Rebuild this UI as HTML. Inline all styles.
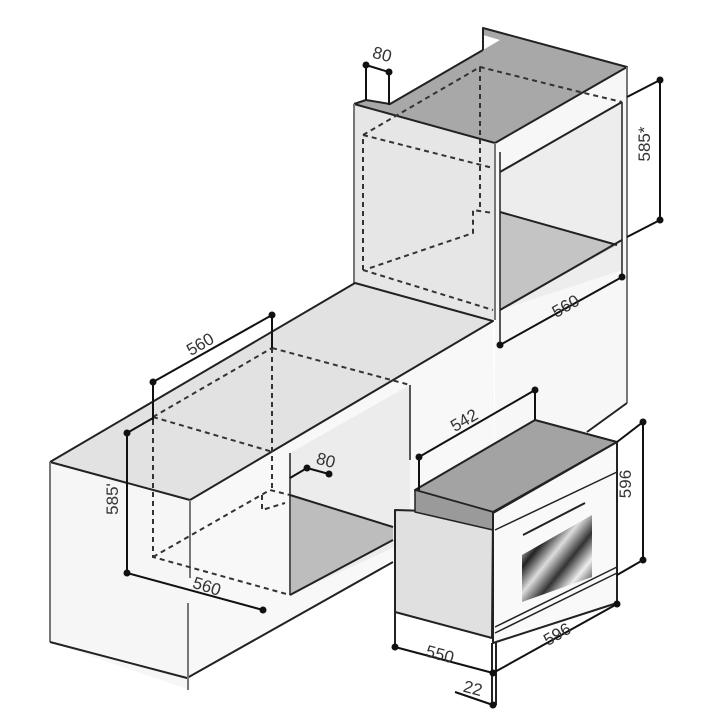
<!DOCTYPE html>
<html><head><meta charset="utf-8"><style>
html,body{margin:0;padding:0;background:#fff;}
svg{display:block;}
text{font-family:"Liberation Sans",sans-serif;font-size:17px;fill:#333;}
</style></head><body>
<svg width="720" height="720" viewBox="0 0 720 720" xmlns="http://www.w3.org/2000/svg">
<defs>
<linearGradient id="win" x1="0" y1="0" x2="1" y2="1">
<stop offset="0" stop-color="#111"/><stop offset="0.15" stop-color="#eee"/><stop offset="0.3" stop-color="#222"/><stop offset="0.45" stop-color="#ddd"/><stop offset="0.6" stop-color="#333"/><stop offset="0.75" stop-color="#eee"/><stop offset="0.9" stop-color="#444"/><stop offset="1" stop-color="#ccc"/>
</linearGradient>
</defs>
<rect width="720" height="720" fill="#fff"/>
<g stroke="#222" stroke-width="2" stroke-linejoin="round">
<!-- column right side face -->
<polygon points="495,143 627,67 627,403 587,432 495,480 495,320" fill="#f7f7f7" stroke="none"/>
<!-- column opening on right side -->
<polygon points="500,172 622,102 622,270 500,310" fill="#ededed" stroke="none"/>
<polygon points="500,212 617,245 500,310" fill="#c4c4c4" stroke="none"/>
<!-- column front -->
<polygon points="354,104 495,143 495,320 355,283" fill="#e6e6e6" stroke="none"/>
<!-- column top -->
<polygon points="354,104 366,100 390,104 483,50 483,28 627,67 495,143" fill="#a8a8a8" stroke="none"/>
<polygon points="483,35 500,40 483,50" fill="#fff" stroke="none"/>
<polyline points="354,104 366,100 390,104 483,50" fill="none"/>
<polyline points="483,50 483,28 627,67 495,143 354,104" fill="none"/>
<line x1="354" y1="104" x2="354" y2="284" stroke="#777"/>
<line x1="495" y1="143" x2="495" y2="320" stroke="#777"/>
<line x1="627" y1="67" x2="627" y2="403" stroke="#777"/>
<line x1="627" y1="403" x2="587" y2="432"/>
<line x1="500" y1="172" x2="622" y2="102"/>
<line x1="622" y1="102" x2="622" y2="277" stroke-width="1.5"/>
<line x1="500" y1="152" x2="500" y2="345" stroke-width="1.5"/>
<line x1="500" y1="212" x2="617" y2="245"/>
<line x1="500" y1="310" x2="622" y2="240"/>
<!-- block faces -->
<polygon points="50,462 190,500 190,690 50,642" fill="#f6f6f6" stroke="none"/>
<polygon points="50,462 355,283 493,321 190,500" fill="#e2e2e2" stroke="none"/>
<polygon points="190,500 493,321 495,480 393,560 187,677" fill="#f8f8f8" stroke="none"/>
<polygon points="290,453 410,385 410,540 290,595" fill="#ececec" stroke="none"/>
<polygon points="290,495 393,527 393,540 290,595" fill="#bdbdbd" stroke="none"/>
<polyline points="50,462 355,283 493,321 190,500 50,462" fill="none"/>
<line x1="50" y1="462" x2="50" y2="642" stroke="#777"/>
<polyline points="50,642 187,678 393,562" fill="none"/>
<line x1="190" y1="500" x2="190" y2="578" stroke="#777"/>
<line x1="188" y1="603" x2="188" y2="690" stroke="#777"/>
<line x1="290" y1="453" x2="290" y2="595" stroke="#555"/>
<line x1="410" y1="385" x2="410" y2="460" stroke="#555"/>
<line x1="290" y1="495" x2="393" y2="527"/>
<line x1="290" y1="595" x2="393" y2="540"/>
</g>
<!-- dashed hidden lines -->
<g stroke="#333" stroke-width="2" stroke-dasharray="5,4" fill="none">
<polyline points="363,270 363,135 480,67 580,92 622,102"/>
<line x1="363" y1="135" x2="493" y2="168"/>
<line x1="480" y1="67" x2="480" y2="207"/>
<line x1="363" y1="270" x2="493" y2="310"/>
<polyline points="370,268 473,233 473,210 493,213"/>
<polyline points="153,420 153,557 290,595"/>
<line x1="153" y1="417" x2="272" y2="348"/>
<line x1="272" y1="348" x2="410" y2="385"/>
<line x1="153" y1="417" x2="273" y2="452"/>
<line x1="272" y1="348" x2="272" y2="490"/>
<polyline points="153,557 270,490 290,495"/>
<polyline points="262,495 262,510 285,503"/>
</g>
<!-- oven -->
<g stroke="#222" stroke-width="2" stroke-linejoin="round">
<polygon points="395,510 493,513 492,645 395,612" fill="#fff" stroke="none"/>
<polygon points="395,510 493,513 492,638 395,612" fill="#e0e0e0"/>
<line x1="395" y1="612" x2="395" y2="647"/>
<polygon points="415,490 535,420 617,442 493,512" fill="#a3a3a3"/>
<polygon points="415,490 493,512 493,530 415,512" fill="#9a9a9a" stroke-width="1.5"/>
<polygon points="493,513 617,442 617,603 493,643" fill="#f9f9f9"/>
<line x1="495" y1="530" x2="617" y2="472" stroke-width="1.5"/>
<line x1="523" y1="535" x2="585" y2="503" stroke-width="2"/>
<polygon points="522,555 592,515 592,577 522,602" fill="url(#win)" stroke="none"/>
<line x1="495" y1="627" x2="617" y2="567" stroke-width="1.5"/>
<line x1="495" y1="633" x2="617" y2="573" stroke-width="1.5"/>
<line x1="496" y1="643" x2="496" y2="705"/>
<line x1="492" y1="643" x2="492" y2="705"/>
</g>
<!-- dimension lines -->
<g stroke="#111" stroke-width="2" fill="none">
<line x1="366" y1="65" x2="366" y2="100"/><line x1="389" y1="72" x2="389" y2="105"/><line x1="366" y1="65" x2="392" y2="73"/>
<line x1="627" y1="97" x2="660" y2="80"/><line x1="627" y1="237" x2="660" y2="220"/><line x1="660" y1="80" x2="660" y2="220"/>
<line x1="622" y1="277" x2="500" y2="345"/>
<line x1="272" y1="315" x2="153" y2="382"/><line x1="272" y1="315" x2="272" y2="348"/><line x1="153" y1="382" x2="153" y2="420"/>
<line x1="127" y1="433" x2="153" y2="418"/><line x1="127" y1="433" x2="127" y2="573"/>
<line x1="127" y1="573" x2="263" y2="610"/>
<line x1="307" y1="468" x2="290" y2="478"/><line x1="307" y1="468" x2="329" y2="474"/>
<line x1="419" y1="457" x2="535" y2="390"/><line x1="419" y1="457" x2="419" y2="490"/><line x1="535" y1="390" x2="535" y2="420"/>
<line x1="617" y1="442" x2="643" y2="422"/><line x1="617" y1="575" x2="643" y2="560"/><line x1="643" y1="422" x2="643" y2="560"/>
<line x1="617" y1="603" x2="617" y2="605"/><line x1="617" y1="604" x2="493" y2="673"/>
<line x1="395" y1="647" x2="493" y2="673"/>
<line x1="455" y1="692" x2="493" y2="705"/>
</g>
<g fill="#111">
<circle cx="366" cy="65" r="3.5"/><circle cx="389" cy="72" r="3.5"/>
<circle cx="660" cy="80" r="3.5"/><circle cx="660" cy="220" r="3.5"/>
<circle cx="622" cy="277" r="3.5"/><circle cx="500" cy="345" r="3.5"/>
<circle cx="272" cy="315" r="3.5"/><circle cx="153" cy="382" r="3.5"/>
<circle cx="127" cy="433" r="3.5"/><circle cx="127" cy="573" r="3.5"/><circle cx="263" cy="610" r="3.5"/>
<circle cx="307" cy="468" r="3.5"/><circle cx="329" cy="474" r="3.5"/>
<circle cx="419" cy="457" r="3.5"/><circle cx="535" cy="390" r="3.5"/>
<circle cx="643" cy="422" r="3.5"/><circle cx="643" cy="560" r="3.5"/>
<circle cx="617" cy="604" r="3.5"/><circle cx="493" cy="673" r="3.5"/>
<circle cx="395" cy="647" r="3.5"/><circle cx="493" cy="705" r="3.5"/>
</g>
<g>
<text x="382" y="60" text-anchor="middle" transform="rotate(15 382 55)">80</text>
<text x="656" y="150" text-anchor="middle" transform="rotate(-90 650 150)">585*</text>
<text x="565" y="312" text-anchor="middle" transform="rotate(-30 565 305)">560</text>
<text x="200" y="350" text-anchor="middle" transform="rotate(-30 200 344)">560</text>
<text x="119" y="510" text-anchor="middle" transform="rotate(-90 113 505)">585'</text>
<text x="207" y="592" text-anchor="middle" transform="rotate(18 207 586)">560</text>
<text x="326" y="466" text-anchor="middle" transform="rotate(15 326 460)">80</text>
<text x="464" y="426" text-anchor="middle" transform="rotate(-30 464 420)">542</text>
<text x="637" y="490" text-anchor="middle" transform="rotate(-90 631 490)">596</text>
<text x="557" y="640" text-anchor="middle" transform="rotate(-30 557 634)">596</text>
<text x="440" y="660" text-anchor="middle" transform="rotate(15 440 654)">550</text>
<text x="473" y="694" text-anchor="middle" transform="rotate(15 473 688)">22</text>
</g>
</svg>
</body></html>
